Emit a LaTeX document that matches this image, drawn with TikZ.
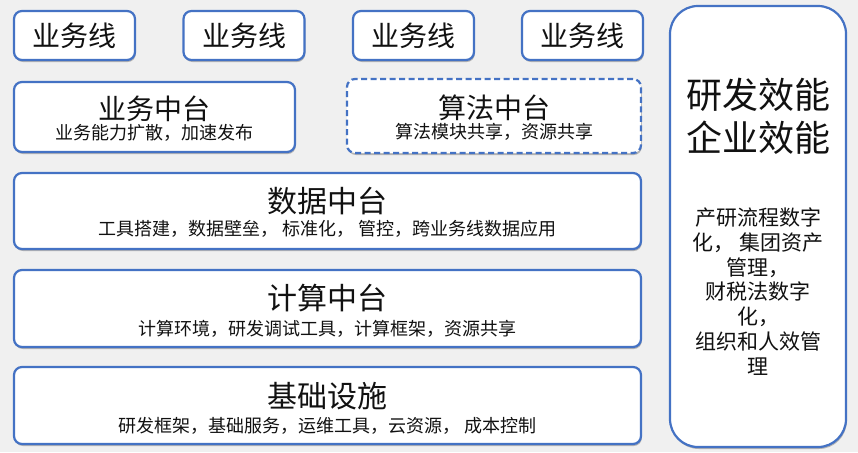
\documentclass[tikz,border=0pt]{standalone}
\usepackage{fontspec}
\setmainfont{Noto Sans CJK SC}
\usetikzlibrary{shadows}
\definecolor{bord}{HTML}{4472C4}
\definecolor{bg}{HTML}{F0F0F0}
\definecolor{txt}{HTML}{111111}
\begin{document}
\begin{tikzpicture}[x=1pt,y=-1pt,
  box/.style={draw=bord, line width=2.2pt, fill=white, rounded corners=8pt, inner sep=0pt,
    drop shadow={shadow xshift=0.8pt,shadow yshift=-2pt,opacity=0.25,fill=black}},
  dashbox/.style={box, dash pattern=on 6pt off 3.5pt},
  bigbox/.style={box, rounded corners=28pt},
  ttl/.style={text=txt, inner sep=0pt, font=\fontsize{30}{34}\selectfont},
  ttls/.style={ttl, font=\fontsize{28}{32}\selectfont},
  sub/.style={text=txt, inner sep=0pt, font=\fontsize{18}{21}\selectfont},
]
\fill[bg] (0,0) rectangle (858,452);
\useasboundingbox (0,0) rectangle (858,452);

% business lines
\node[box, minimum width=121pt, minimum height=49pt] (l1) at (74.5,35.5) {};
\node[box, minimum width=121pt, minimum height=49pt] (l2) at (244,35.5) {};
\node[box, minimum width=121pt, minimum height=49pt] (l3) at (413.5,35.5) {};
\node[box, minimum width=121pt, minimum height=49pt] (l4) at (582.5,35.5) {};
\node[ttls] (t1) at (l1.center) {业务线};
\node[ttls] (t2) at (l2.center) {业务线};
\node[ttls] (t3) at (l3.center) {业务线};
\node[ttls] (t4) at (l4.center) {业务线};

% middle platforms
\node[box, minimum width=281pt, minimum height=70pt] (yw) at (154.5,117) {};
\node[ttls] (ywt) at (154.5,109) {业务中台};
\node[sub] (yws) at (154.5,133) {业务能力扩散，加速发布};

\node[dashbox, minimum width=294pt, minimum height=74pt] (sf) at (494,116) {};
\node[ttls] (sft) at (494,107.5) {算法中台};
\node[sub] (sfs) at (494,132) {算法模块共享，资源共享};

\node[box, minimum width=627pt, minimum height=76pt] (sj) at (327.5,211) {};
\node[ttl] (sjt) at (327.5,201) {数据中台};
\node[sub] (sjs) at (327.5,229) {工具搭建，数据壁垒， 标准化， 管控，跨业务线数据应用};

\node[box, minimum width=627pt, minimum height=77pt] (js) at (327.5,308.5) {};
\node[ttl] (jst) at (327.5,298) {计算中台};
\node[sub] (jss) at (327.5,329) {计算环境，研发调试工具，计算框架，资源共享};

\node[box, minimum width=627pt, minimum height=77pt] (jc) at (327.5,405.5) {};
\node[ttl] (jct) at (327.5,396) {基础设施};
\node[sub] (jcs) at (327.5,426) {研发框架，基础服务，运维工具，云资源， 成本控制};

% right column
\node[bigbox, minimum width=176pt, minimum height=441pt] (rt) at (758,226.5) {};
\node[text=txt, inner sep=0pt, align=center, font=\fontsize{36}{43}\selectfont] (rtt) at (758,116.5) {研发效能\\企业效能};
\node[text=txt, inner sep=0pt, align=center, font=\fontsize{21}{24.8}\selectfont] (rts) at (758,291.5)
  {产研流程数字\\化， 集团资产\\管理，\\财税法数字\\化，\\组织和人效管\\理};
\end{tikzpicture}
\end{document}
